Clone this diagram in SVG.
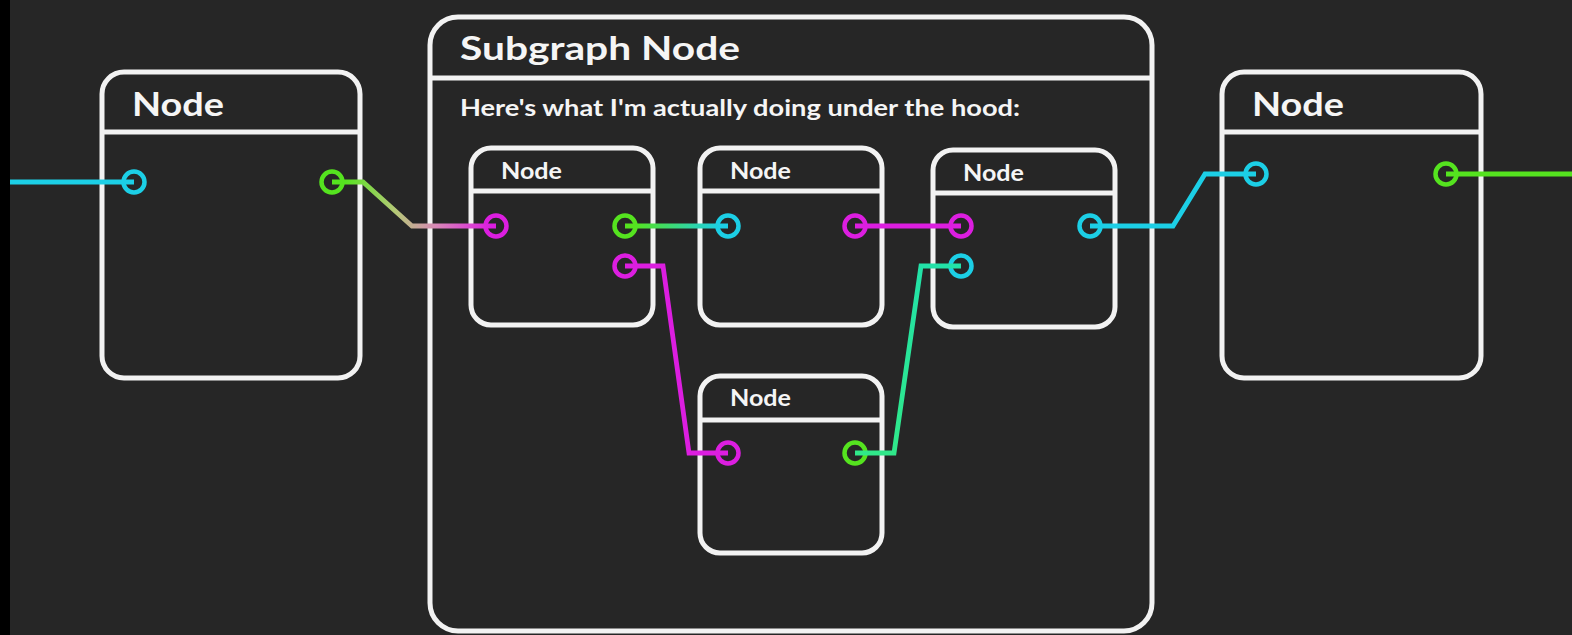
<svg xmlns="http://www.w3.org/2000/svg" width="1572" height="635" viewBox="0 0 1572 635">
<defs>
<style>
.box{fill:none;stroke:#f2f2f2;stroke-width:5}
.div{stroke:#f2f2f2;stroke-width:5}
.t1{font-family:Lato,"Open Sans",sans-serif;font-weight:700;font-size:33px;fill:#f5f5f5}
.t2{font-family:Lato,"Open Sans",sans-serif;font-weight:700;font-size:22px;fill:#f5f5f5}
.sub{font-family:Lato,"Open Sans",sans-serif;font-weight:700;font-size:23px;fill:#f5f5f5}
.port{fill:none;stroke-width:4.5}
.cy{stroke:#1ccfe6}
.gr{stroke:#55e31f}
.mg{stroke:#dc1ee0}
.wire{fill:none;stroke-width:4.8;stroke-linejoin:miter}
</style>
<linearGradient id="gGM" gradientUnits="userSpaceOnUse" x1="345" y1="0" x2="490" y2="0">
<stop offset="0" stop-color="#55e31f"/>
<stop offset="0.35" stop-color="#b5c877"/>
<stop offset="0.62" stop-color="#d88ab6"/>
<stop offset="1" stop-color="#dc1ee0"/>
</linearGradient>
<linearGradient id="gGC" gradientUnits="userSpaceOnUse" x1="635" y1="0" x2="720" y2="0">
<stop offset="0" stop-color="#55e31f"/>
<stop offset="1" stop-color="#1ccfe6"/>
</linearGradient>
<linearGradient id="gT" gradientUnits="userSpaceOnUse" x1="0" y1="453" x2="0" y2="265">
<stop offset="0" stop-color="#30e88a"/>
<stop offset="1" stop-color="#22e2a8"/>
</linearGradient>
</defs>
<rect x="0" y="0" width="1572" height="635" fill="#262626"/>
<rect x="0" y="0" width="10" height="635" fill="#000"/>

<g id="node-left">
<rect class="box" x="102" y="72" width="258" height="306" rx="22"/>
<line class="div" x1="102" y1="132" x2="360" y2="132"/>
<text class="t1" x="132" y="116" textLength="92" lengthAdjust="spacingAndGlyphs">Node</text>
<circle class="port cy" cx="134" cy="182" r="10.5"/>
<circle class="port gr" cx="332" cy="182" r="10.5"/>
</g>

<g id="subgraph">
<rect class="box" x="430" y="17" width="722" height="614" rx="28"/>
<line class="div" x1="430" y1="78" x2="1152" y2="78"/>
<text class="t1" x="460" y="60" textLength="280" lengthAdjust="spacingAndGlyphs">Subgraph Node</text>
<text class="sub" x="460" y="116" textLength="560" lengthAdjust="spacingAndGlyphs">Here's what I'm actually doing under the hood:</text>
</g>

<g id="node-a">
<rect class="box" x="471" y="148" width="182" height="177" rx="20"/>
<line class="div" x1="471" y1="191" x2="653" y2="191"/>
<text class="t2" x="501" y="179" textLength="61" lengthAdjust="spacingAndGlyphs">Node</text>
<circle class="port mg" cx="496" cy="226" r="10.5"/>
<circle class="port gr" cx="625" cy="226" r="10.5"/>
<circle class="port mg" cx="625" cy="266" r="10.5"/>
</g>

<g id="node-b">
<rect class="box" x="700" y="148" width="182" height="177" rx="20"/>
<line class="div" x1="700" y1="191" x2="882" y2="191"/>
<text class="t2" x="730" y="179" textLength="61" lengthAdjust="spacingAndGlyphs">Node</text>
<circle class="port cy" cx="728" cy="226" r="10.5"/>
<circle class="port mg" cx="855" cy="226" r="10.5"/>
</g>

<g id="node-c">
<rect class="box" x="933" y="150" width="182" height="177" rx="20"/>
<line class="div" x1="933" y1="193" x2="1115" y2="193"/>
<text class="t2" x="963" y="181" textLength="61" lengthAdjust="spacingAndGlyphs">Node</text>
<circle class="port mg" cx="961" cy="226" r="10.5"/>
<circle class="port cy" cx="961" cy="266" r="10.5"/>
<circle class="port cy" cx="1090" cy="226" r="10.5"/>
</g>

<g id="node-d">
<rect class="box" x="700" y="376" width="182" height="177" rx="20"/>
<line class="div" x1="700" y1="420" x2="882" y2="420"/>
<text class="t2" x="730" y="406" textLength="61" lengthAdjust="spacingAndGlyphs">Node</text>
<circle class="port mg" cx="728" cy="453" r="10.5"/>
<circle class="port gr" cx="855" cy="453" r="10.5"/>
</g>

<g id="node-right">
<rect class="box" x="1222" y="72" width="259" height="306" rx="22"/>
<line class="div" x1="1222" y1="132" x2="1481" y2="132"/>
<text class="t1" x="1252" y="116" textLength="92" lengthAdjust="spacingAndGlyphs">Node</text>
<circle class="port cy" cx="1256" cy="174" r="10.5"/>
<circle class="port gr" cx="1446" cy="174" r="10.5"/>
</g>

<g id="connectors">
<path class="wire cy" d="M10 182 H134"/>
<path class="wire" stroke="url(#gGM)" d="M332 182 H363 L412 226 H496"/>
<path class="wire" stroke="url(#gGC)" d="M625 226 H728"/>
<path class="wire mg" d="M855 226 H961"/>
<path class="wire mg" d="M625 266 H663 L689 453 H728"/>
<path class="wire" stroke="url(#gT)" d="M855 453 H894 L921 266 H961"/>
<path class="wire cy" d="M1090 226 H1173 L1205 174 H1256"/>
<path class="wire gr" d="M1446 174 H1572"/>
</g>
</svg>
